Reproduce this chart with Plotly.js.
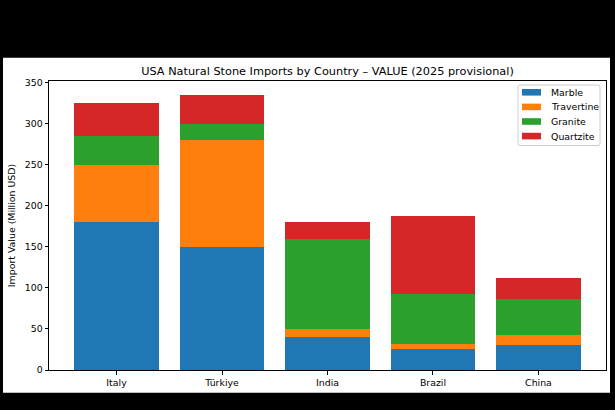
<!DOCTYPE html>
<html>
<head>
<meta charset="utf-8">
<script src="https://cdn.plot.ly/plotly-3.0.1.min.js"></script>
<style>html,body{margin:0;padding:0;background:#000;}#chart{width:615px;height:410px;}</style>
</head>
<body>
<div id="chart"></div>
<script>
const countries = ["Italy", "Türkiye", "India", "Brazil", "China"];
const marble = [180, 150, 40, 25, 30];
const travertine = [70, 130, 10, 7, 12];
const granite = [35, 20, 110, 61, 45];
const quartzite = [40, 35, 20, 95, 25];
const seriesNames = ["Marble", "Travertine", "Granite", "Quartzite"];
const seriesColors = ["#1f77b4", "#ff7f0e", "#2ca02c", "#d62728"];
const yTicks = [0, 50, 100, 150, 200, 250, 300, 350];

const values = [marble, travertine, granite, quartzite];
const traces = values.map((v, i) => ({
  type: "bar",
  x: countries,
  y: v,
  name: seriesNames[i],
  width: 0.8,
  marker: {color: seriesColors[i], line: {width: 0}},
  showlegend: false,
  hoverinfo: "skip"
}));

const W = 615, H = 410;
const L = 49, R = 9, T = 81, B = 40;
const pw = W - L - R, ph = H - T - B;
const px = x => (x - L) / pw;
const py = y => (H - B - y) / ph;

const FS = 9.4;

// custom legend (matplotlib-like compact layout)
const lgL = 518, lgR = 600, lgT = 85, lgB = 145.5, rad = 2;
const legendShapes = [];
const legendAnnots = [];
function rrPath(x0, y0, x1, y1, r) {
  const X = px, Y = py;
  // build path in paper coords
  const rx = r / pw, ry = r / ph;
  const a = X(x0), b = X(x1), c = Y(y1), d = Y(y0); // c top (larger), d bottom
  return `M ${a + rx},${d} L ${b - rx},${d} Q ${b},${d} ${b},${d + ry} L ${b},${c - ry} Q ${b},${c} ${b - rx},${c} L ${a + rx},${c} Q ${a},${c} ${a},${c - ry} L ${a},${d + ry} Q ${a},${d} ${a + rx},${d} Z`;
}
legendShapes.push({
  type: "path", xref: "paper", yref: "paper", layer: "above",
  path: rrPath(lgL, lgB, lgR, lgT, rad),
  fillcolor: "rgba(255,255,255,0.8)", line: {color: "#cccccc", width: 1}
});
const itemY0 = 92.3, itemStep = 14.6;
seriesNames.forEach((n, i) => {
  const cy = itemY0 + i * itemStep;
  legendShapes.push({
    type: "rect", xref: "paper", yref: "paper", layer: "above",
    x0: px(522), x1: px(541), y0: py(cy + 3.3), y1: py(cy - 3.3),
    fillcolor: seriesColors[i], line: {width: 0}
  });
  legendAnnots.push({
    xref: "paper", yref: "paper", x: px(548.5), y: py(cy),
    xanchor: "left", yanchor: "middle", showarrow: false,
    text: n, font: {family: "DejaVu Sans", size: FS, color: "#000"}
  });
});

const layout = {
  width: W, height: H,
  paper_bgcolor: "#000000",
  plot_bgcolor: "#ffffff",
  margin: {l: L, r: R, t: T, b: B, pad: 0},
  font: {family: "DejaVu Sans", size: FS, color: "#000"},
  barmode: "stack",
  showlegend: false,
  title: {
    text: "USA Natural Stone Imports by Country – VALUE (2025 provisional)",
    font: {family: "DejaVu Sans", size: 11.3, color: "#000"},
    xref: "paper", x: 0.5, xanchor: "center",
    yref: "container", y: 1 - 71 / H, yanchor: "middle"
  },
  xaxis: {
    type: "category",
    range: [-0.64, 4.64],
    showline: true, mirror: true, linecolor: "#000", linewidth: 1,
    ticks: "outside", ticklen: 3.5, tickcolor: "#000", tickwidth: 1,
    showgrid: false, zeroline: false,
    tickfont: {size: FS, color: "#000"},
    fixedrange: true
  },
  yaxis: {
    range: [0, 351.75],
    tickvals: yTicks,
    ticktext: yTicks.map(String),
    showline: true, mirror: true, linecolor: "#000", linewidth: 1,
    ticks: "outside", ticklen: 3.5, tickcolor: "#000", tickwidth: 1,
    showgrid: false, zeroline: false,
    tickfont: {size: FS, color: "#000"},
    title: {text: "Import Value (Million USD)", font: {size: FS, color: "#000"}, standoff: 7},
    fixedrange: true
  },
  shapes: [{
    type: "rect", xref: "paper", yref: "paper", layer: "below",
    x0: px(3), x1: px(610), y0: py(392.7), y1: py(57.7),
    fillcolor: "#ffffff", line: {width: 0}
  }].concat(legendShapes),
  annotations: legendAnnots
};

Plotly.newPlot("chart", traces, layout, {displayModeBar: false, staticPlot: true});
</script>
</body>
</html>
